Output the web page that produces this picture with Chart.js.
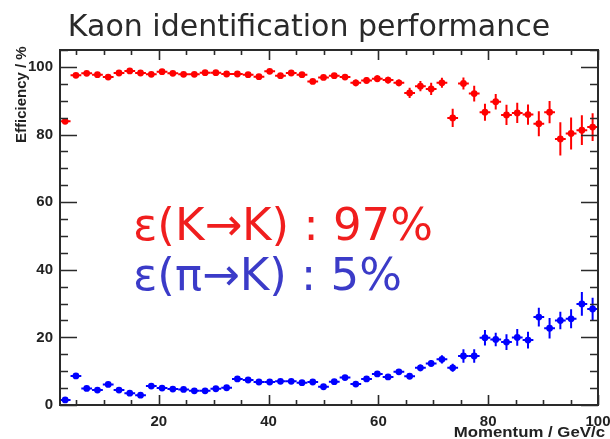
<!DOCTYPE html>
<html>
<head>
<meta charset="utf-8">
<script src="https://cdn.jsdelivr.net/npm/chart.js@4/dist/chart.umd.min.js"></script>
<style>
  html, body { margin: 0; padding: 0; background: #ffffff; }
  #c { display: block; }
</style>
</head>
<body>
<canvas id="c" width="610" height="439"></canvas>
<script>
// Momentum bin centres (GeV/c)
const momentum = [2.94, 4.90, 6.86, 8.82, 10.78, 12.75, 14.71, 16.67, 18.63, 20.59,
  22.55, 24.51, 26.47, 28.43, 30.39, 32.35, 34.31, 36.27, 38.24, 40.20,
  42.16, 44.12, 46.08, 48.04, 50.00, 51.96, 53.92, 55.88, 57.84, 59.80,
  61.76, 63.73, 65.69, 67.65, 69.61, 71.57, 73.53, 75.49, 77.45, 79.41,
  81.37, 83.33, 85.29, 87.25, 89.22, 91.18, 93.14, 95.10, 97.06, 99.02];
const binHalfWidth = 0.98;

// Kaon identified as kaon (%)
const kaonEff = [83.9, 97.5, 98.1, 97.7, 97.0, 98.2, 98.8, 98.2, 97.8, 98.6,
  98.1, 97.8, 97.8, 98.3, 98.3, 97.9, 97.9, 97.7, 97.1, 98.7,
  97.4, 98.2, 97.7, 95.7, 96.9, 97.4, 97.0, 95.3, 96.0, 96.5,
  96.1, 95.3, 92.3, 94.3, 93.5, 95.3, 84.9, 95.1, 92.1, 86.6,
  89.7, 85.8, 86.4, 85.9, 83.2, 86.6, 78.7, 80.3, 81.3, 82.2];
const kaonErr = [0.8, 0.5, 0.5, 0.5, 0.5, 0.5, 0.5, 0.5, 0.5, 0.5,
  0.5, 0.5, 0.5, 0.5, 0.5, 0.5, 0.5, 0.5, 0.5, 0.5,
  0.5, 0.5, 0.5, 0.7, 0.7, 0.7, 0.7, 1.0, 1.0, 1.0,
  1.0, 1.0, 1.5, 1.5, 1.8, 1.5, 2.7, 1.8, 2.3, 2.5,
  2.3, 3.0, 3.0, 3.0, 3.7, 3.3, 4.9, 4.7, 4.4, 4.1];

// Pion misidentified as kaon (%)
const pionEff = [1.5, 8.6, 4.9, 4.4, 6.1, 4.4, 3.5, 2.9, 5.6, 5.0,
  4.7, 4.6, 4.2, 4.2, 4.8, 5.1, 7.7, 7.4, 6.8, 6.8,
  7.0, 7.0, 6.6, 6.8, 5.4, 6.9, 8.1, 6.2, 7.7, 9.2,
  8.3, 9.8, 8.5, 11.0, 12.3, 13.5, 11.0, 14.5, 14.5, 19.9,
  19.4, 18.6, 20.0, 19.2, 26.0, 22.7, 25.0, 25.5, 29.9, 28.4];
const pionErr = [0.4, 0.4, 0.4, 0.4, 0.4, 0.4, 0.4, 0.4, 0.4, 0.4,
  0.4, 0.4, 0.4, 0.4, 0.4, 0.4, 0.5, 0.5, 0.5, 0.5,
  0.5, 0.5, 0.5, 0.5, 0.5, 0.5, 0.7, 0.7, 0.7, 0.7,
  0.7, 0.7, 0.7, 1.0, 1.0, 1.2, 1.2, 2.0, 2.0, 2.3,
  2.0, 2.3, 2.5, 2.5, 2.8, 3.0, 2.6, 2.8, 3.5, 3.3];

const xTickLabels = [20, 40, 60, 80, 100];
const yTickLabels = [0, 20, 40, 60, 80, 100];

const titleText = 'Kaon identification performance';
const xTitle = 'Momentum / GeV/c';
const yTitle = 'Efficiency / %';
const kaonNote = 'ε(K→K) : 97%';
const pionNote = 'ε(π→K) : 5%';

function points(eff, err) {
  return momentum.map((m, i) => ({ x: m, y: eff[i], e: err[i] }));
}

// Error bars, axis frame with inward ticks, and text annotations
const histoStyle = {
  id: 'histoStyle',
  beforeDatasetsDraw(chart) {
    const { ctx, scales: { x, y } } = chart;
    chart.data.datasets.forEach(ds => {
      ctx.save();
      ctx.strokeStyle = ds.borderColor;
      ctx.lineWidth = 2;
      ds.data.forEach(p => {
        const px = x.getPixelForValue(p.x);
        const py = y.getPixelForValue(p.y);
        ctx.beginPath();
        ctx.moveTo(x.getPixelForValue(p.x - binHalfWidth), py);
        ctx.lineTo(x.getPixelForValue(p.x + binHalfWidth), py);
        ctx.moveTo(px, y.getPixelForValue(p.y - p.e));
        ctx.lineTo(px, y.getPixelForValue(p.y + p.e));
        ctx.stroke();
      });
      ctx.restore();
    });
  },
  afterDraw(chart) {
    const { ctx, chartArea: a, scales: { x, y } } = chart;
    ctx.save();
    ctx.strokeStyle = '#2a2a2a';
    ctx.lineWidth = 1.6;
    ctx.beginPath();
    // x ticks (bottom pointing up, top pointing down)
    for (let v = 5; v <= 100; v += 5) {
      const px = Math.round(x.getPixelForValue(v)) + 0.5;
      const len = (v % 20 === 0) ? 10 : 5;
      ctx.moveTo(px, a.bottom); ctx.lineTo(px, a.bottom - len);
      ctx.moveTo(px, a.top); ctx.lineTo(px, a.top + len);
    }
    // y ticks (left pointing right, right pointing left)
    for (let v = 0; v <= 105; v += 5) {
      const py = Math.round(y.getPixelForValue(v)) + 0.5;
      const len = (v % 20 === 0) ? 17 : 8;
      ctx.moveTo(a.left, py); ctx.lineTo(a.left + len, py);
      ctx.moveTo(a.right, py); ctx.lineTo(a.right - len, py);
    }
    ctx.stroke();
    ctx.lineWidth = 2;
    ctx.strokeRect(a.left, a.top, a.right - a.left, a.bottom - a.top);
    ctx.restore();

    // Title
    ctx.save();
    ctx.fillStyle = '#2a2a2a';
    ctx.font = '30px "DejaVu Sans"';
    ctx.textAlign = 'center';
    ctx.textBaseline = 'alphabetic';
    ctx.fillText(titleText, 309, 36);
    ctx.restore();

    // Axis titles
    ctx.save();
    ctx.fillStyle = '#222222';
    ctx.font = 'bold 15px "Liberation Sans"';
    ctx.textAlign = 'right';
    ctx.translate(605, 437);
    ctx.scale(1.12, 1);
    ctx.fillText(xTitle, 0, 0);
    ctx.restore();

    ctx.save();
    ctx.fillStyle = '#222222';
    ctx.font = 'bold 15px "Liberation Sans"';
    ctx.textAlign = 'left';
    ctx.translate(26, 143);
    ctx.rotate(-Math.PI / 2);
    ctx.fillText(yTitle, 0, 0);
    ctx.restore();

    // Efficiency summaries
    ctx.save();
    ctx.font = '45px "DejaVu Sans"';
    ctx.textAlign = 'left';
    ctx.fillStyle = '#f01e1e';
    ctx.fillText(kaonNote, 133, 240);
    ctx.fillStyle = '#3b3bc8';
    ctx.fillText(pionNote, 133, 290);
    ctx.restore();
  }
};

const tickFont = { family: '"Liberation Sans", Arial, sans-serif', size: 15, weight: 'bold' };

new Chart(document.getElementById('c'), {
  type: 'scatter',
  data: {
    datasets: [
      { label: 'K→K', data: points(kaonEff, kaonErr), backgroundColor: '#ff0000', borderColor: '#ff0000',
        pointRadius: 3.4, pointHoverRadius: 3.4, pointBorderWidth: 0 },
      { label: 'π→K', data: points(pionEff, pionErr), backgroundColor: '#0000ff', borderColor: '#0000ff',
        pointRadius: 3.4, pointHoverRadius: 3.4, pointBorderWidth: 0 }
    ]
  },
  options: {
    responsive: false,
    animation: false,
    devicePixelRatio: 1,
    events: [],
    layout: { padding: { top: 50, right: 12, left: 0, bottom: 0 } },
    plugins: { legend: { display: false }, tooltip: { enabled: false }, title: { display: false } },
    scales: {
      x: {
        type: 'linear', min: 2, max: 100,
        afterBuildTicks: s => { s.ticks = xTickLabels.map(v => ({ value: v })); },
        afterFit: s => { s.height = 34; s.paddingLeft = 0; s.paddingRight = 0; },
        grid: { display: false, drawTicks: false },
        border: { display: false },
        ticks: { font: tickFont, color: '#222222', padding: 8, maxRotation: 0, autoSkip: false }
      },
      y: {
        type: 'linear', min: 0, max: 105,
        afterBuildTicks: s => { s.ticks = yTickLabels.map(v => ({ value: v })); },
        afterFit: s => { s.width = 60; s.paddingTop = 0; s.paddingBottom = 0; },
        grid: { display: false, drawTicks: false },
        border: { display: false },
        ticks: { font: tickFont, color: '#222222', padding: 7, autoSkip: false }
      }
    }
  },
  plugins: [histoStyle]
});
</script>
</body>
</html>
